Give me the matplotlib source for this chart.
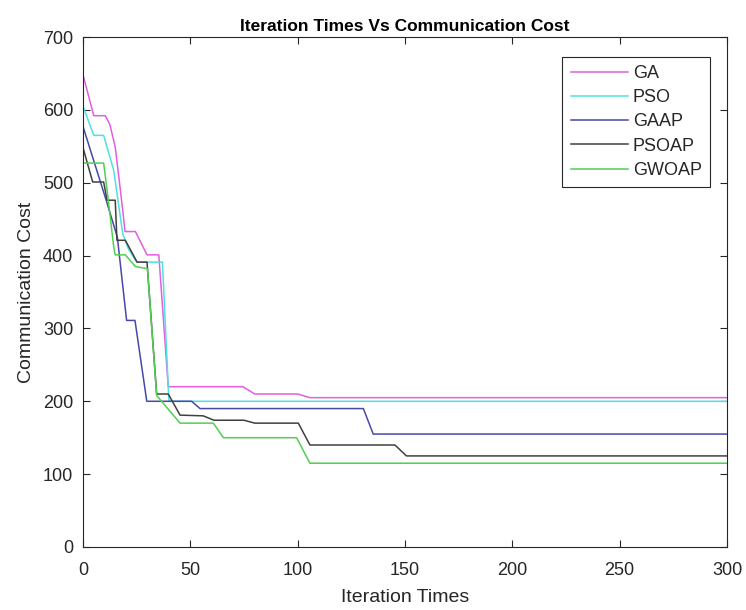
import matplotlib
matplotlib.use("Agg")
import matplotlib.pyplot as plt

# courbes de convergence (iteration, cout)
ga_x = [0, 5, 10.4, 12.5, 15, 17.4, 19.6, 24.4, 29.8, 35.3, 39.7, 74.5, 80, 100, 105.7, 300]
ga_y = [648, 592, 592, 580, 549, 490, 433, 433, 401, 401, 220, 220, 210, 210, 205, 205]

pso_x = [0, 5, 9.6, 14.3, 18.5, 21, 25, 37, 40, 300]
pso_y = [605, 565, 565, 517, 430, 410, 391, 391, 200, 200]

gaap_x = [0, 11, 16, 20.3, 24.2, 29.7, 50.6, 54.5, 130.6, 135.2, 300]
gaap_y = [577, 474, 425, 311, 311, 200, 200, 190, 190, 155, 155]

psoap_x = [0, 4.5, 9.6, 11.2, 15, 15.8, 19.7, 25.2, 29.8, 34.3, 39.7, 45.2, 56, 61, 75, 80,
           100.3, 105.7, 145.3, 150.7, 300]
psoap_y = [548, 501, 501, 476, 476, 421, 421, 391, 391, 210, 210, 181, 180, 174, 174, 170,
           170, 140, 140, 125, 125]

gwoap_x = [0, 9.6, 11.2, 14.3, 15, 19.7, 24.4, 30, 34.3, 45.2, 60.7, 65.4, 99.5, 105.7, 300]
gwoap_y = [527, 527, 490, 412, 401, 401, 385, 382, 208, 170, 170, 150, 150, 115, 115]

noms = ["GA", "PSO", "GAAP", "PSOAP", "GWOAP"]
couleurs = ["#e060e0", "#50e0e0", "#4848a8", "#404040", "#50d050"]

plt.rcParams['font.family'] = ['Liberation Sans', 'DejaVu Sans']
gris = "#262626"

fig = plt.figure(figsize=(7.46, 6.10), dpi=100)
ax = fig.add_axes([0.1113, 0.1033, 0.8632, 0.836])

series = [(ga_x, ga_y), (pso_x, pso_y), (gaap_x, gaap_y), (psoap_x, psoap_y), (gwoap_x, gwoap_y)]
for (xs, ys), nom, c in zip(series, noms, couleurs):
    ax.plot(xs, ys, color=c, lw=1.1, label=nom)

ax.set_xlim(0, 300)
ax.set_ylim(0, 700)
ax.set_xticks(range(0, 301, 50))
ax.set_yticks(range(0, 701, 100))
ax.tick_params(direction='in', top=True, right=True, length=5, labelsize=13,
               colors=gris, width=0.8)
ax.tick_params(axis='x', pad=11)
ax.tick_params(axis='y', pad=7)
for s in ax.spines.values():
    s.set_color(gris)
    s.set_linewidth(0.8)

ax.set_xlabel("Iteration Times", fontsize=14, color=gris, labelpad=7)
ax.set_ylabel("Communication Cost", fontsize=14, color=gris, labelpad=6)
ax.set_title("Iteration Times Vs Communication Cost", fontsize=12.5, fontweight='bold', pad=4)

leg = ax.legend(loc='upper right', bbox_to_anchor=(0.9736, 0.961), borderaxespad=0,
                fontsize=13, fancybox=False, framealpha=1, edgecolor=gris,
                handlelength=3.2, borderpad=0.45, labelspacing=0.4, handletextpad=0.25)
leg.get_frame().set_linewidth(0.8)
for t in leg.get_texts():
    t.set_color(gris)

plt.savefig("out.png", dpi=100)
